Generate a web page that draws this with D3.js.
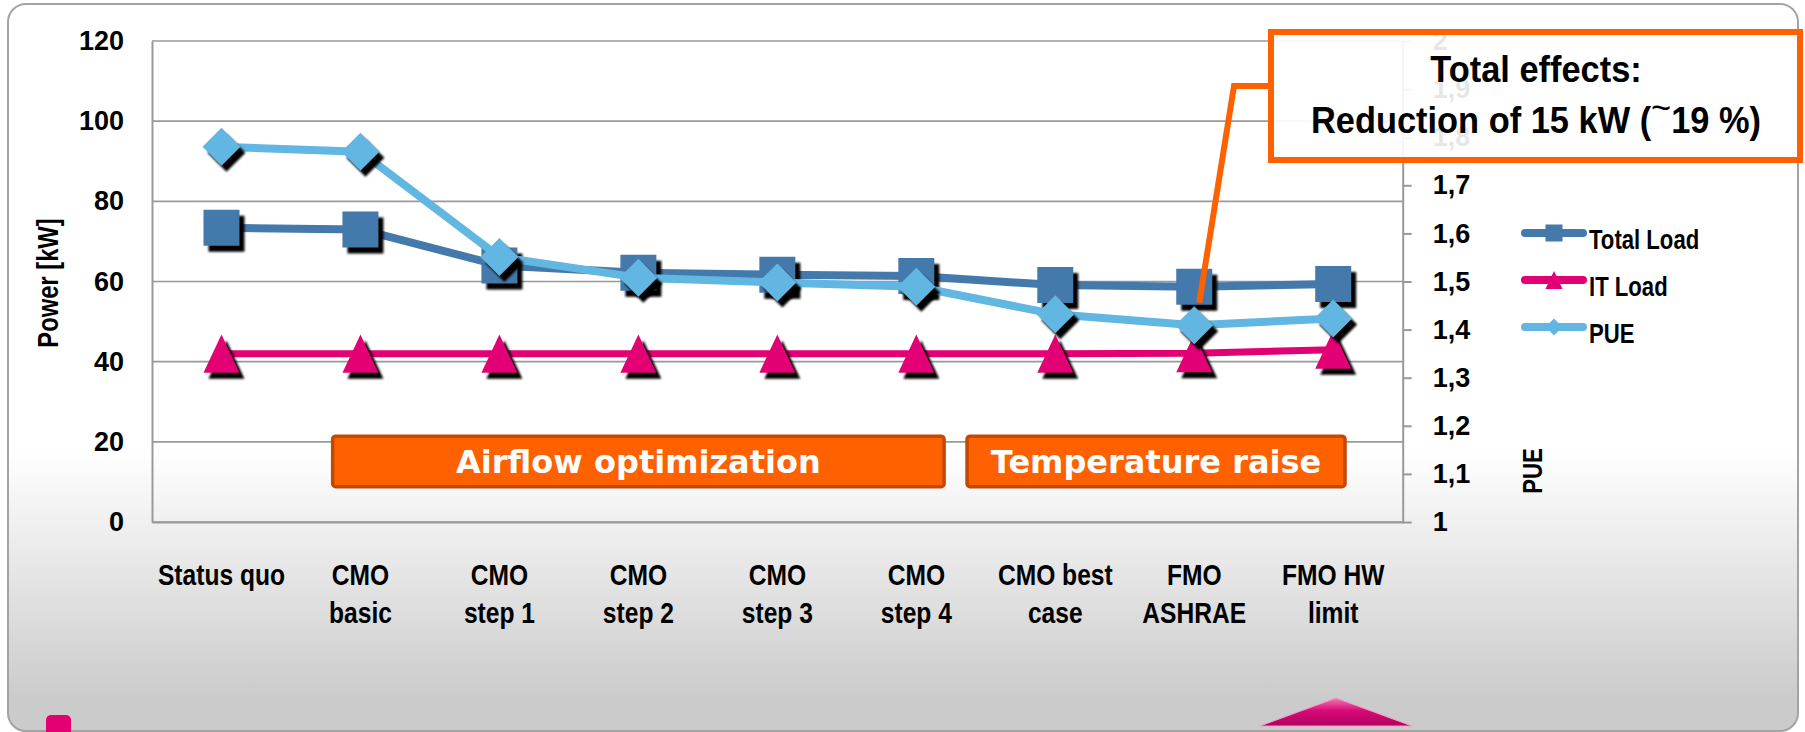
<!DOCTYPE html>
<html>
<head>
<meta charset="utf-8">
<script src="https://cdn.jsdelivr.net/npm/d3@7"></script>
<style>
  body { margin: 0; background: #fff; }
</style>
</head>
<body>
<div id="chart"></div>
<script>
var w = 1805, h = 732;
var plotLeft = 152, plotRight = 1402.7, plotTop = 41, plotBottom = 522;
var sans = "Liberation Sans, Arial, sans-serif";
var narrow = 0.82; // horizontal squeeze to mimic Arial Narrow

// Data
var categories = [["Status quo"], ["CMO", "basic"], ["CMO", "step 1"], ["CMO", "step 2"], ["CMO", "step 3"],
  ["CMO", "step 4"], ["CMO best", "case"], ["FMO", "ASHRAE"], ["FMO HW", "limit"]];
var totalLoad = [73.4, 73.0, 64.0, 62.2, 61.7, 61.4, 59.1, 58.7, 59.4];
var itLoad = [42.0, 42.0, 42.0, 42.0, 42.0, 42.0, 42.0, 42.1, 43.0];
var pue = [1.780, 1.770, 1.551, 1.508, 1.498, 1.489, 1.432, 1.409, 1.423];
var powerTicks = [0, 20, 40, 60, 80, 100, 120];
var pueTicks = [1, 1.1, 1.2, 1.3, 1.4, 1.5, 1.6, 1.7, 1.8, 1.9, 2];
var pueTickLabels = ["1", "1,1", "1,2", "1,3", "1,4", "1,5", "1,6", "1,7", "1,8", "1,9", "2"];
var seriesNames = ["Total Load", "IT Load", "PUE"];
var seriesColors = ["#4479ac", "#e20074", "#62b6e2"];
var phaseLabels = ["Airflow optimization", "Temperature raise"];
var phaseStart = [1.30, 5.865];   // in category units
var phaseEnd = [5.70, 8.585];
var calloutLines = ["Total effects:", "Reduction of 15 kW (", "19 %)"];

// Scales
var x = d3.scaleBand().domain(d3.range(categories.length)).range([plotLeft, plotRight]);
var xUnit = d3.scaleLinear().domain([0, categories.length]).range([plotLeft, plotRight]);
var yL = d3.scaleLinear().domain([0, 120]).range([plotBottom, plotTop]);
var yR = d3.scaleLinear().domain([1, 2]).range([plotBottom, plotTop]);
function cx(i) { return x(i) + x.bandwidth() / 2; }

var svg = d3.select("#chart").append("svg")
  .attr("width", w)
  .attr("height", h)
  .attr("font-family", sans);

var defs = svg.append("defs");
var bg = defs.append("linearGradient").attr("id", "bg")
  .attr("gradientUnits", "userSpaceOnUse")
  .attr("x1", 0).attr("y1", 450).attr("x2", 0).attr("y2", 700);
bg.append("stop").attr("offset", 0).attr("stop-color", "#ffffff");
bg.append("stop").attr("offset", 1).attr("stop-color", "#cbcbcb");
var tri = defs.append("linearGradient").attr("id", "tri")
  .attr("x1", 0).attr("y1", 0).attr("x2", 0).attr("y2", 1);
tri.append("stop").attr("offset", 0).attr("stop-color", "#f27ab5");
tri.append("stop").attr("offset", 0.45).attr("stop-color", "#d80a78");
tri.append("stop").attr("offset", 1).attr("stop-color", "#b3005e");
defs.append("filter").attr("id", "blur")
  .append("feGaussianBlur").attr("stdDeviation", 1);

// Slide background
svg.append("rect")
  .attr("x", 8).attr("y", 4)
  .attr("width", 1790).attr("height", 727)
  .attr("rx", 18)
  .attr("fill", "url(#bg)")
  .attr("stroke", "#a3a3a3")
  .attr("stroke-width", 2);

// Gridlines
svg.append("g")
  .selectAll("line")
  .data(powerTicks)
  .enter()
  .append("line")
  .attr("x1", plotLeft)
  .attr("x2", plotRight)
  .attr("y1", function(d) { return yL(d); })
  .attr("y2", function(d) { return yL(d); })
  .attr("stroke", "#999")
  .attr("stroke-width", 1.7);

// Left axis
var yAxisL = d3.axisLeft(yL).tickValues(powerTicks).tickSize(0).tickPadding(28);
svg.append("g")
  .attr("transform", "translate(" + plotLeft + ",0)")
  .call(yAxisL)
  .call(function(g) {
    g.select(".domain").attr("stroke", "#999").attr("stroke-width", 2);
    g.selectAll("text").attr("font-size", 27).attr("font-weight", "bold")
      .attr("font-family", sans).attr("fill", "#000");
  });

// Right axis
var yAxisR = d3.axisRight(yR).tickValues(pueTicks)
  .tickFormat(function(d, i) { return pueTickLabels[i]; })
  .tickSizeInner(9).tickSizeOuter(0).tickPadding(21);
svg.append("g")
  .attr("transform", "translate(" + plotRight + ",0)")
  .call(yAxisR)
  .call(function(g) {
    g.select(".domain").attr("stroke", "#999").attr("stroke-width", 2);
    g.selectAll("line").attr("stroke", "#999").attr("stroke-width", 2);
    g.selectAll("text").attr("font-size", 27).attr("font-weight", "bold")
      .attr("font-family", sans).attr("fill", "#000");
  });

// Bottom axis, two-line category labels
var xAxis = d3.axisBottom(x).tickSize(0).tickSizeOuter(0);
svg.append("g")
  .attr("transform", "translate(0," + plotBottom + ")")
  .call(xAxis)
  .call(function(g) {
    g.select(".domain").attr("stroke", "#999").attr("stroke-width", 2);
    g.selectAll(".tick text").each(function(d) {
      var t = d3.select(this).text(null).attr("y", null).attr("dy", null)
        .attr("font-family", sans).attr("font-weight", "bold")
        .attr("font-size", 30).attr("fill", "#000")
        .attr("transform", "scale(" + narrow + ",1)");
      categories[d].forEach(function(line, k) {
        t.append("tspan").attr("x", 0).attr("y", 63 + k * 38).text(line);
      });
    });
  });

// Axis titles
svg.append("text")
  .attr("font-weight", "bold")
  .attr("font-size", 29)
  .attr("text-anchor", "middle")
  .attr("transform", "translate(58,283) rotate(-90) scale(" + narrow + ",1)")
  .text("Power [kW]");
svg.append("text")
  .attr("font-weight", "bold")
  .attr("font-size", 27)
  .attr("text-anchor", "middle")
  .attr("transform", "translate(1542,471) rotate(-90) scale(" + narrow + ",1)")
  .text("PUE");

// Phase labels
var phases = svg.append("g").selectAll("g")
  .data(phaseLabels)
  .enter()
  .append("g");
phases.append("rect")
  .attr("x", function(d, i) { return xUnit(phaseStart[i]); })
  .attr("y", yL(21.4))
  .attr("width", function(d, i) { return xUnit(phaseEnd[i]) - xUnit(phaseStart[i]); })
  .attr("height", yL(8.8) - yL(21.4))
  .attr("rx", 3)
  .attr("fill", "#ff6000")
  .attr("stroke", "#c44800")
  .attr("stroke-width", 3.5);
phases.append("text")
  .attr("x", function(d, i) { return (xUnit(phaseStart[i]) + xUnit(phaseEnd[i])) / 2; })
  .attr("y", 473)
  .attr("text-anchor", "middle")
  .attr("font-family", "DejaVu Sans, Verdana, sans-serif")
  .attr("font-weight", "bold")
  .attr("font-size", 32)
  .attr("fill", "#fff")
  .text(function(d) { return d; });

// Marker shapes
function markerPath(type, s) {
  if (type === 0) return "M" + (-s / 2) + "," + (-s / 2) + "h" + s + "v" + s + "h" + (-s) + "Z";
  if (type === 1) return "M0," + (-s * 0.53) + "L" + (s / 2) + "," + (s * 0.53) + "L" + (-s / 2) + "," + (s * 0.53) + "Z";
  return "M0," + (-s / 2) + "L" + (s / 2) + ",0L0," + (s / 2) + "L" + (-s / 2) + ",0Z";
}

var seriesData = [totalLoad, itLoad, pue];
var seriesY = [yL, yL, yR];
var markerSize = [36, 36, 38];

seriesData.forEach(function(values, s) {
  var g = svg.append("g");
  var line = d3.line()
    .x(function(d, i) { return cx(i); })
    .y(function(d) { return seriesY[s](d); });
  g.append("path")
    .datum(values)
    .attr("d", line)
    .attr("fill", "none")
    .attr("stroke", seriesColors[s])
    .attr("stroke-width", s === 1 ? 7 : 8)
    .attr("stroke-linejoin", "round");
  g.selectAll(".shadow")
    .data(values)
    .enter()
    .append("path")
    .attr("class", "shadow")
    .attr("d", markerPath(s, markerSize[s]))
    .attr("transform", function(d, i) { return "translate(" + (cx(i) + 5) + "," + (seriesY[s](d) + 6) + ")"; })
    .attr("fill", "#000")
    .attr("filter", "url(#blur)");
  g.selectAll(".marker")
    .data(values)
    .enter()
    .append("path")
    .attr("class", "marker")
    .attr("d", markerPath(s, markerSize[s]))
    .attr("transform", function(d, i) { return "translate(" + cx(i) + "," + seriesY[s](d) + ")"; })
    .attr("fill", seriesColors[s]);
});

// Callout
svg.append("rect")
  .attr("x", 1271).attr("y", 32)
  .attr("width", 529).attr("height", 128)
  .attr("fill", "#fff")
  .attr("fill-opacity", 0.9)
  .attr("stroke", "#ff6000")
  .attr("stroke-width", 6);
svg.append("polyline")
  .attr("points", [[1271, 86], [1234, 86], [cx(7) + 5, yL(totalLoad[7]) + 16]].join(" "))
  .attr("fill", "none")
  .attr("stroke", "#ff6000")
  .attr("stroke-width", 6);
var callout = svg.append("g")
  .attr("transform", "translate(1536,0) scale(0.93,1)")
  .attr("font-weight", "bold")
  .attr("font-size", 37)
  .attr("text-anchor", "middle");
callout.append("text")
  .attr("x", 0).attr("y", 82)
  .text(calloutLines[0]);
var t2 = callout.append("text")
  .attr("x", 0).attr("y", 133);
t2.append("tspan").text(calloutLines[1]);
t2.append("tspan").attr("dy", -13).attr("font-weight", "normal").text("~");
t2.append("tspan").attr("dy", 13).text(calloutLines[2]);

// Legend
var legend = svg.append("g").selectAll("g")
  .data(seriesNames)
  .enter()
  .append("g")
  .attr("transform", function(d, i) { return "translate(1525," + (233 + i * 47) + ")"; });
legend.append("line")
  .attr("x1", 0).attr("x2", 58)
  .attr("stroke", function(d, i) { return seriesColors[i]; })
  .attr("stroke-width", 8)
  .attr("stroke-linecap", "round");
legend.append("path")
  .attr("d", function(d, i) { return markerPath(i, 17); })
  .attr("transform", "translate(29,0)")
  .attr("fill", function(d, i) { return seriesColors[i]; });
legend.append("text")
  .attr("transform", "translate(64,16) scale(" + narrow + ",1)")
  .attr("font-weight", "bold")
  .attr("font-size", 27)
  .text(function(d) { return d; });

// Slide decorations
svg.append("rect")
  .attr("x", 46).attr("y", 715)
  .attr("width", 25).attr("height", 30)
  .attr("rx", 5)
  .attr("fill", "#e20074");
svg.append("path")
  .attr("d", "M1336,698L1412,726L1260,726Z")
  .attr("fill", "url(#tri)")
  .attr("stroke", "#f59cc8")
  .attr("stroke-width", 1);
</script>
</body>
</html>
